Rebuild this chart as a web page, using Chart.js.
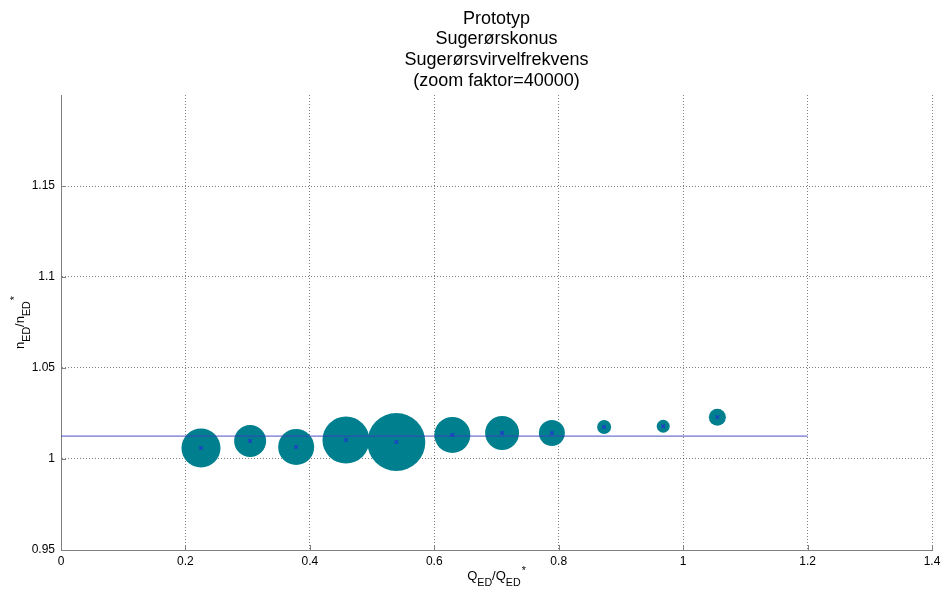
<!DOCTYPE html>
<html>
<head>
<meta charset="utf-8">
<script src="https://cdn.jsdelivr.net/npm/chart.js@4/dist/chart.umd.min.js"></script>
<style>
html,body{margin:0;padding:0;background:#fff;}
#wrap{width:945px;height:592px;position:relative;}
</style>
</head>
<body>
<div id="wrap"><canvas id="c" width="945" height="592"></canvas></div>
<script>
// ---- data ----
const titleLines = ["Prototyp", "Sugerørskonus", "Sugerørsvirvelfrekvens", "(zoom faktor=40000)"];
const qED = [0.225, 0.304, 0.378, 0.458, 0.539, 0.629, 0.709, 0.789, 0.873, 0.968, 1.055];
const nED = [1.006, 1.0099, 1.0066, 1.0104, 1.0093, 1.0132, 1.0143, 1.0143, 1.0176, 1.018, 1.023];
const bubbleSize = [19.5, 16, 18, 23.5, 29, 18, 17, 13, 7, 6.5, 8.5];
const refLineX = [0, 1.2];
const refLineY = [1.0126, 1.0126];
const xTicks = [0, 0.2, 0.4, 0.6, 0.8, 1, 1.2, 1.4];
const yTicks = [0.95, 1, 1.05, 1.1, 1.15];

const FONT = 'Arial, "Liberation Sans", sans-serif';

const bubbles = qED.map((x, i) => ({x: x, y: nED[i], r: bubbleSize[i]}));
const centers = qED.map((x, i) => ({x: x, y: nED[i]}));
const refLine = refLineX.map((x, i) => ({x: x, y: refLineY[i]}));

const SUB = 0.82;
function layoutRich(ctx, parts, size) {
  const subSize = size * SUB;
  parts.forEach(p => {
    ctx.font = (p.s ? subSize : size) + 'px ' + FONT;
    p.w = ctx.measureText(p.t).width;
  });
  let total = 0, lastSubEnd = 0;
  parts.forEach(p => {
    if (p.s === 'sup' && p.afterSub) { p.x = lastSubEnd + 1; total = Math.max(total, p.x + p.w); }
    else { p.x = total; total += p.w; if (p.s === 'sub') lastSubEnd = total; }
  });
  return total;
}
function renderRich(ctx, parts, size, cx, cy) {
  const total = layoutRich(ctx, parts, size);
  const subSize = size * SUB;
  const x0 = cx - total / 2;
  ctx.textAlign = 'left';
  ctx.textBaseline = 'alphabetic';
  parts.forEach(p => {
    ctx.font = (p.s ? subSize : size) + 'px ' + FONT;
    let dy = 0;
    if (p.s === 'sub') dy = size * 0.45;
    if (p.s === 'sup') dy = -size * 0.5;
    ctx.fillText(p.t, x0 + p.x, cy + dy);
  });
}

const textPlugin = {
  id: 'texts',
  afterDraw(chart) {
    const ctx = chart.ctx;
    const ca = chart.chartArea;
    const cx = (ca.left + ca.right) / 2;
    ctx.save();
    ctx.fillStyle = '#000';
    // title
    ctx.font = '18px ' + FONT;
    ctx.textAlign = 'center';
    ctx.textBaseline = 'alphabetic';
    titleLines.forEach((t, i) => ctx.fillText(t, cx, 23.5 + i * 20.8));
    // x axis title
    renderRich(ctx, [
      {t: 'Q'}, {t: 'ED', s: 'sub'}, {t: '/Q'}, {t: 'ED', s: 'sub'}, {t: '*', s: 'sup', afterSub: true}
    ], 13, cx, 580);
    // y axis title
    ctx.translate(24, (ca.top + ca.bottom) / 2);
    ctx.rotate(-Math.PI / 2);
    renderRich(ctx, [
      {t: 'n'}, {t: 'ED', s: 'sub'}, {t: '/n'}, {t: 'ED', s: 'sub'}, {t: '*', s: 'sup', afterSub: true}
    ], 13, 0, 0);
    ctx.restore();
    // inner tick marks
    ctx.save();
    ctx.strokeStyle = '#808080';
    ctx.lineWidth = 1;
    const xs = chart.scales.x, ys = chart.scales.y;
    ctx.beginPath();
    xTicks.forEach(v => {
      const px = Math.round(xs.getPixelForValue(v)) + 0.5;
      ctx.moveTo(px, ca.bottom); ctx.lineTo(px, ca.bottom - 5);
    });
    yTicks.forEach(v => {
      const py = Math.round(ys.getPixelForValue(v)) + 0.5;
      ctx.moveTo(ca.left, py); ctx.lineTo(ca.left + 5, py);
    });
    ctx.stroke();
    ctx.restore();
  }
};

const near = (a, b) => Math.abs(a - b) < 1e-6;

new Chart(document.getElementById('c'), {
  type: 'bubble',
  data: {
    datasets: [
      {
        type: 'scatter',
        data: refLine,
        showLine: true,
        borderColor: 'rgba(60,60,190,0.72)',
        borderWidth: 1.2,
        pointRadius: 0,
        order: 1
      },
      {
        type: 'scatter',
        data: centers,
        pointStyle: 'crossRot',
        pointRadius: 2.5,
        borderColor: '#1f3cc8',
        borderWidth: 1.3,
        backgroundColor: '#1f3cc8',
        order: 0
      },
      {
        type: 'bubble',
        data: bubbles,
        backgroundColor: '#00808e',
        borderWidth: 0,
        order: 2
      }
    ]
  },
  options: {
    responsive: false,
    animation: false,
    events: [],
    layout: {autoPadding: false, padding: {top: 95, right: 13, left: 0, bottom: 0}},
    plugins: {legend: {display: false}, tooltip: {enabled: false}, title: {display: false}},
    scales: {
      x: {
        type: 'linear',
        min: 0, max: 1.4,
        afterBuildTicks(s) { s.ticks = xTicks.map(v => ({value: v})); },
        afterFit(s) { s.height = 42; s.paddingLeft = 0; s.paddingRight = 0; },
        ticks: {
          callback: v => String(+v.toFixed(2)),
          color: '#000',
          font: {family: FONT, size: 12},
          padding: 4,
          maxRotation: 0
        },
        grid: {
          color: ctx => near(ctx.tick.value, 0) ? 'rgba(0,0,0,0)' : 'rgba(0,0,0,0.5)',
          drawTicks: false
        },
        border: {display: true, color: '#808080', width: 1, dash: [1, 2]}
      },
      y: {
        type: 'linear',
        min: 0.95, max: 1.2,
        afterBuildTicks(s) { s.ticks = yTicks.map(v => ({value: v})); },
        afterFit(s) { s.width = 61; s.paddingTop = 0; s.paddingBottom = 0; },
        ticks: {
          callback: v => String(+v.toFixed(2)),
          color: '#000',
          font: {family: FONT, size: 12},
          padding: 6
        },
        grid: {
          color: ctx => near(ctx.tick.value, 0.95) ? 'rgba(0,0,0,0)' : 'rgba(0,0,0,0.5)',
          drawTicks: false
        },
        border: {display: true, color: '#808080', width: 1, dash: [1, 2]}
      }
    }
  },
  plugins: [textPlugin]
});
</script>
</body>
</html>
